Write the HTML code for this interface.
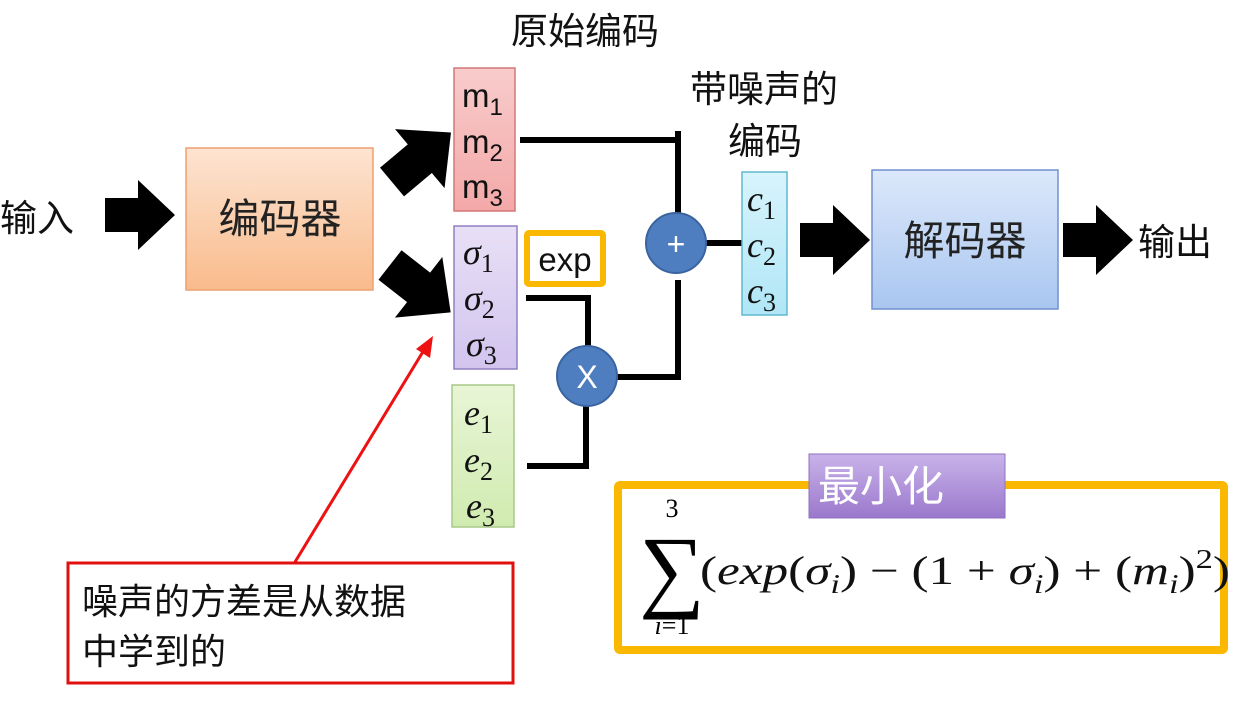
<!DOCTYPE html>
<html><head><meta charset="utf-8"><style>
body{margin:0;background:#fff;}
svg text{font-family:"Liberation Sans","Noto Sans CJK SC",sans-serif;}
svg text.m{font-family:"Liberation Serif","DejaVu Serif",serif;font-style:italic;}
svg text.f{font-family:"Liberation Serif","DejaVu Serif",serif;}
</style></head><body>
<svg width="1245" height="696" viewBox="0 0 1245 696" xmlns="http://www.w3.org/2000/svg">
<defs>
<linearGradient id="go" x1="0" y1="0" x2="0" y2="1"><stop offset="0" stop-color="#fde4d2"/><stop offset="1" stop-color="#f9bb8c"/></linearGradient>
<linearGradient id="gb" x1="0" y1="0" x2="0" y2="1"><stop offset="0" stop-color="#dce8fa"/><stop offset="1" stop-color="#a9c6f0"/></linearGradient>
<linearGradient id="gp" x1="0" y1="0" x2="0" y2="1"><stop offset="0" stop-color="#c9b3ea"/><stop offset="1" stop-color="#9a78cc"/></linearGradient>
<linearGradient id="gm" x1="0" y1="0" x2="0" y2="1"><stop offset="0" stop-color="#f8cccc"/><stop offset="1" stop-color="#f4a8a8"/></linearGradient>
<linearGradient id="gs" x1="0" y1="0" x2="0" y2="1"><stop offset="0" stop-color="#e8e0f6"/><stop offset="1" stop-color="#d2c4ee"/></linearGradient>
<linearGradient id="ge" x1="0" y1="0" x2="0" y2="1"><stop offset="0" stop-color="#e8f5d6"/><stop offset="1" stop-color="#d0ebb0"/></linearGradient>
<linearGradient id="gc" x1="0" y1="0" x2="0" y2="1"><stop offset="0" stop-color="#d8f4fc"/><stop offset="1" stop-color="#b0e6f6"/></linearGradient>
<polygon id="arr" points="0,-17 33,-17 33,-35 70,0 33,35 33,17 0,17"/>
</defs>

<text x="0" y="231" font-size="37" fill="#111">输入</text>
<use href="#arr" x="105" y="215" fill="#000"/>
<rect x="186" y="148" width="187" height="142" fill="url(#go)" stroke="#eea070" stroke-width="1.5"/>
<text x="280" y="233" font-size="41" text-anchor="middle" fill="#222">编码器</text>

<g transform="translate(392,182) rotate(-40) scale(1.1)"><use href="#arr" fill="#000"/></g>
<g transform="translate(390,265) rotate(38) scale(1.1)"><use href="#arr" fill="#000"/></g>

<text x="585" y="44" font-size="37" text-anchor="middle" fill="#111">原始编码</text>
<text x="764" y="102" font-size="37" text-anchor="middle" fill="#111">带噪声的</text>
<text x="765" y="154" font-size="37" text-anchor="middle" fill="#111">编码</text>

<g stroke="#000" stroke-width="6" fill="none">
<polyline points="520,140 678,140 678,215"/>
<line x1="678" y1="131" x2="678" y2="142"/>
<polyline points="678,280 678,377 612,377"/>
<polyline points="526,298 588,298 588,350"/>
<polyline points="527,466 586,466 586,402"/>
<line x1="706" y1="243" x2="743" y2="243"/>
</g>

<rect x="454" y="68" width="61" height="143" fill="url(#gm)" stroke="#d07878" stroke-width="1.5"/>
<text x="462" y="107" font-size="33" fill="#111">m<tspan font-size="24" dy="8">1</tspan></text>
<text x="462" y="153" font-size="33" fill="#111">m<tspan font-size="24" dy="8">2</tspan></text>
<text x="462" y="198" font-size="33" fill="#111">m<tspan font-size="24" dy="8">3</tspan></text>

<rect x="454" y="226" width="63" height="143" fill="url(#gs)" stroke="#9080c0" stroke-width="1.5"/>
<text class="m" x="463" y="264" font-size="36" fill="#111">σ<tspan style="font-style:normal" font-size="26" dy="8">1</tspan></text>
<text class="m" x="464" y="310" font-size="36" fill="#111">σ<tspan style="font-style:normal" font-size="26" dy="8">2</tspan></text>
<text class="m" x="466" y="356" font-size="36" fill="#111">σ<tspan style="font-style:normal" font-size="26" dy="8">3</tspan></text>

<rect x="452" y="385" width="62" height="142" fill="url(#ge)" stroke="#a8c888" stroke-width="1.5"/>
<text class="m" x="464" y="425" font-size="36" fill="#111">e<tspan style="font-style:normal" font-size="26" dy="8">1</tspan></text>
<text class="m" x="464" y="472" font-size="36" fill="#111">e<tspan style="font-style:normal" font-size="26" dy="8">2</tspan></text>
<text class="m" x="466" y="518" font-size="36" fill="#111">e<tspan style="font-style:normal" font-size="26" dy="8">3</tspan></text>

<rect x="527" y="233" width="76" height="51" fill="#fff" stroke="#fbb800" stroke-width="6" rx="2"/>
<text x="565" y="271" font-size="33" text-anchor="middle" fill="#111">exp</text>

<circle cx="676" cy="243" r="30" fill="#4f7ec0" stroke="#3a64a0" stroke-width="2"/>
<text x="676" y="255" font-size="32" text-anchor="middle" fill="#fff">+</text>
<circle cx="587" cy="376" r="30" fill="#4f7ec0" stroke="#3a64a0" stroke-width="2"/>
<text x="587" y="388" font-size="32" text-anchor="middle" fill="#fff">X</text>

<rect x="742" y="172" width="45" height="143" fill="url(#gc)" stroke="#60b8d0" stroke-width="1.5"/>
<text class="m" x="747" y="211" font-size="36" fill="#111">c<tspan style="font-style:normal" font-size="26" dy="8">1</tspan></text>
<text class="m" x="747" y="257" font-size="36" fill="#111">c<tspan style="font-style:normal" font-size="26" dy="8">2</tspan></text>
<text class="m" x="747" y="303" font-size="36" fill="#111">c<tspan style="font-style:normal" font-size="26" dy="8">3</tspan></text>

<use href="#arr" x="800" y="240" fill="#000"/>
<rect x="872" y="170" width="186" height="139" fill="url(#gb)" stroke="#7090d0" stroke-width="1.5"/>
<text x="965" y="255" font-size="41" text-anchor="middle" fill="#222">解码器</text>
<use href="#arr" x="1063" y="240" fill="#000"/>
<text x="1138" y="255" font-size="37" fill="#111">输出</text>

<line x1="295" y1="562" x2="424" y2="350" stroke="#ee1111" stroke-width="3"/>
<polygon points="433,336 430,358 416,349" fill="#ee1111"/>
<rect x="68" y="563" width="445" height="120" fill="#fff" stroke="#e01010" stroke-width="3"/>
<text x="82" y="614" font-size="36" fill="#111">噪声的方差是从数据</text>
<text x="82" y="664" font-size="36" fill="#111">中学到的</text>

<rect x="618" y="485" width="606" height="165" fill="#fff" stroke="#fbb800" stroke-width="8" rx="2"/>
<rect x="809" y="454" width="196" height="64" fill="url(#gp)" stroke="#9070c0" stroke-width="1"/>
<text x="818" y="501" font-size="42" fill="#fff">最小化</text>
<text class="f" x="672" y="517" font-size="26" text-anchor="middle">3</text>
<text class="f" x="672" y="600" font-size="92" text-anchor="middle">∑</text>
<text class="m" x="672" y="634" font-size="26" text-anchor="middle">i<tspan style="font-style:normal">=1</tspan></text>
<text class="f" x="700" y="584" font-size="40" fill="#111" textLength="530" lengthAdjust="spacingAndGlyphs">(<tspan style="font-style:italic">exp</tspan>(<tspan style="font-style:italic">σ</tspan><tspan style="font-style:italic" font-size="27" dy="9">i</tspan><tspan dy="-9">) − (1 + </tspan><tspan style="font-style:italic">σ</tspan><tspan style="font-style:italic" font-size="27" dy="9">i</tspan><tspan dy="-9">) + (</tspan><tspan style="font-style:italic">m</tspan><tspan style="font-style:italic" font-size="27" dy="9">i</tspan><tspan dy="-9">)</tspan><tspan font-size="27" dy="-16">2</tspan><tspan dy="16">)</tspan></text>
</svg>
</body></html>
